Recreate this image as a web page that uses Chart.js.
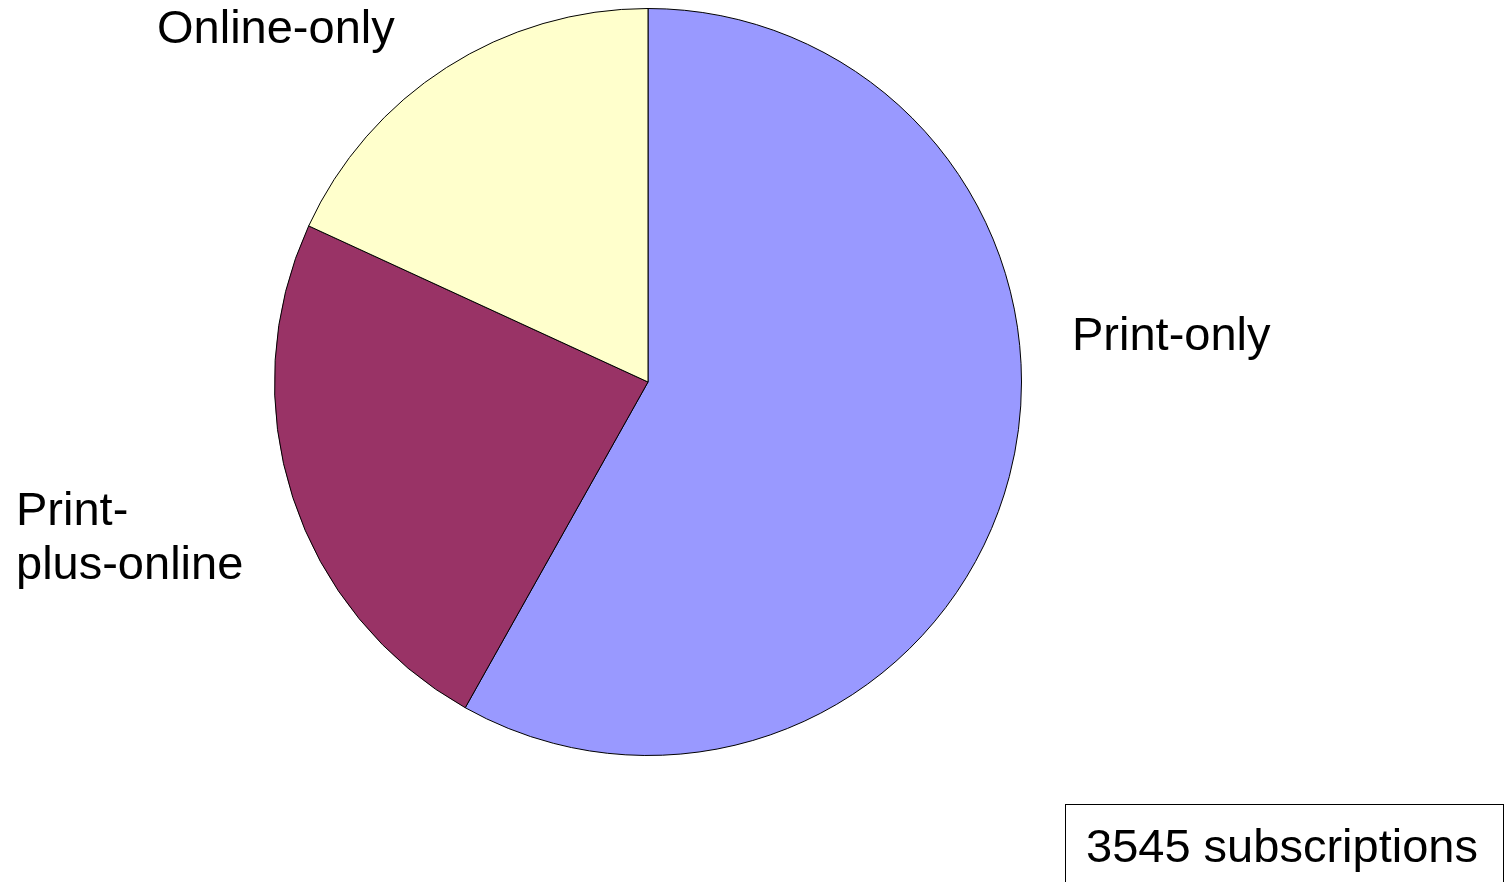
<!DOCTYPE html>
<html>
<head>
<meta charset="utf-8">
<script src="https://cdn.jsdelivr.net/npm/chart.js@4.4.1/dist/chart.umd.min.js"></script>
<style>
  html, body { margin: 0; padding: 0; background: #fff; }
  #wrap { position: relative; width: 1508px; height: 882px; }
</style>
</head>
<body>
<div id="wrap"><canvas id="grafico" width="1508" height="882"></canvas></div>
<script>
// dados
var categorias = ["Print-only", "Print-plus-online", "Online-only"];
var valores = [2061, 841, 643];
var cores = ["#9999FF", "#993366", "#FFFFCC"];
var total = "3545 subscriptions";

// rotulos (texto)
var rotulos = [
    { linhas: ["Print-only"], x: 1072, y: 350 },
    { linhas: ["Print-", "plus-online"], x: 16, y: 525 },
    { linhas: ["Online-only"], x: 157, y: 43 }
];

var fonte = "47px 'Liberation Sans', Arial, sans-serif";

var pluginRotulos = {
    id: 'rotulos',
    afterDraw: function (chart) {
        var ctx = chart.ctx;
        ctx.save();
        ctx.font = fonte;
        ctx.fillStyle = "#000";
        ctx.textAlign = "left";
        ctx.textBaseline = "alphabetic";
        rotulos.forEach(function (r) {
            r.linhas.forEach(function (l, i) {
                ctx.fillText(l, r.x, r.y + i * 54);
            });
        });
        // caixa com total
        ctx.lineWidth = 1;
        ctx.strokeStyle = "#000";
        ctx.strokeRect(1065.5, 804.5, 438, 100);
        ctx.fillText(total, 1086, 862);
        ctx.restore();
    }
};

var ctx = document.getElementById('grafico').getContext('2d');

var grafico = new Chart(ctx, {
    type: 'pie',
    data: {
        labels: categorias,
        datasets: [{
            data: valores,
            backgroundColor: cores,
            borderColor: "#000",
            borderWidth: 1
        }]
    },
    options: {
        responsive: false,
        animation: false,
        layout: {
            padding: { top: 8, bottom: 126, left: 274, right: 486 }
        },
        plugins: {
            legend: { display: false },
            tooltip: { enabled: false }
        }
    },
    plugins: [pluginRotulos]
});
</script>
</body>
</html>
